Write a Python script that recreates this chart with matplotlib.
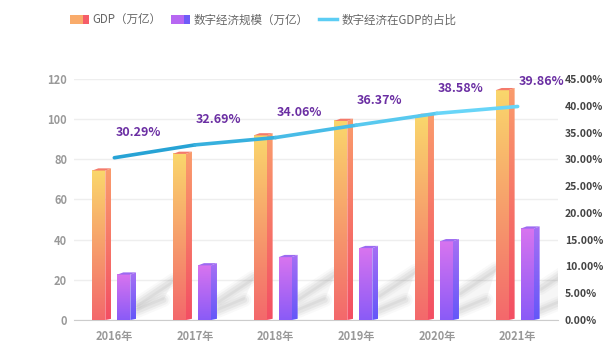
import numpy as np
import matplotlib.pyplot as plt
from matplotlib.colors import LinearSegmentedColormap
from matplotlib.patches import Polygon, Rectangle
from matplotlib.collections import LineCollection
from matplotlib.legend_handler import HandlerBase
from matplotlib.lines import Line2D

plt.rcParams['font.family'] = ['Noto Sans CJK SC', 'DejaVu Sans']

# 数据
years = ['2016年', '2017年', '2018年', '2019年', '2020年', '2021年']
gdp = [74.4, 82.7, 91.9, 99.1, 101.6, 114.4]        # 万亿
digital = [22.6, 27.2, 31.3, 35.8, 39.2, 45.5]      # 万亿
share = [30.29, 32.69, 34.06, 36.37, 38.58, 39.86]  # %

# 配色
gdp_front = ['#f3686c', '#fad76b']
gdp_side = ['#f34e63', '#fa9c6c']
gdp_cap = '#f47a6b'
dig_front = ['#8a5bf7', '#d874ef']
dig_side = ['#6357f9', '#a670f4']
dig_cap = '#9c6af1'

fw = 0.161   # 正面宽度
sw = 0.074   # 侧面宽度
dz = 1.1     # 顶面高度
off = 0.155

fig = plt.figure(figsize=(6.15, 3.55), dpi=100)
ax = fig.add_axes([0.1203, 0.0986, 0.787, 0.679])
x = np.arange(len(years))


def grad_cmap(cols):
    return LinearSegmentedColormap.from_list('g', cols)


grad = np.linspace(0, 1, 256).reshape(-1, 1)


def draw_3d(bars, front, side, cap):
    for r in bars:
        x0 = r.get_x()
        x1 = x0 + r.get_width()
        h = r.get_height()
        ax.imshow(grad, cmap=grad_cmap(front), origin='lower', aspect='auto',
                  extent=(x0, x1, 0, h), zorder=3)
        sp = Polygon([(x1, 0), (x1 + sw, 0.6), (x1 + sw, h + dz), (x1, h)],
                     closed=True, fc='none', ec='none')
        ax.add_patch(sp)
        im = ax.imshow(grad, cmap=grad_cmap(side), origin='lower', aspect='auto',
                       extent=(x1, x1 + sw, 0, h + dz), zorder=3)
        im.set_clip_path(sp)
        ax.add_patch(Polygon([(x0, h), (x1, h), (x1 + sw, h + dz), (x0 + sw, h + dz)],
                             closed=True, fc=cap, ec='none', zorder=4))


def soft_line(xs, ys):
    for lw, a in [(10, 0.04), (7, 0.06), (4, 0.08)]:
        ax.plot(xs, ys, color='#666666', lw=lw, alpha=a,
                solid_capstyle='round', zorder=1.6)


def draw_shadow(bars):
    # 紫色柱子右后方的斜向投影
    for r in bars:
        xr = r.get_x() + r.get_width() + sw
        h = r.get_height()
        up0 = 0.35 * h
        xs_u = [xr + 0.01, xr + 0.46]
        ys_u = [up0, up0 + 12]
        xs_l = [xr + 0.01, xr + 0.34]
        ys_l = [4.5, 10]
        ax.fill([xs_l[0], xs_u[0], xs_u[1], xs_l[1]],
                [ys_l[0], ys_u[0], ys_u[1], ys_l[1]],
                color='#888888', alpha=0.07, lw=0, zorder=1.5)
        soft_line(xs_u, ys_u)
        soft_line(xs_l, ys_l)


gdp_bars = ax.bar(x - off - sw / 2, gdp, width=fw, color='none', zorder=2)
dig_bars = ax.bar(x + off - sw / 2, digital, width=fw, color='none', zorder=2)
draw_shadow(dig_bars)
draw_3d(gdp_bars, gdp_front, gdp_side, gdp_cap)
draw_3d(dig_bars, dig_front, dig_side, dig_cap)

ax.set_xlim(-0.5, len(years) - 0.5)
ax.set_ylim(0, 120)
ax.set_yticks(np.arange(0, 121, 20))
ax.set_xticks(x)
ax.set_xticklabels(years)
ax.yaxis.grid(True, color='#eeeeee', lw=1)
ax.set_axisbelow(True)
for s in ['top', 'right', 'left']:
    ax.spines[s].set_visible(False)
ax.spines['bottom'].set_color('#cccccc')
ax.tick_params(axis='y', length=0, labelsize=8, labelcolor='#999999', pad=5)
ax.tick_params(axis='x', length=0, labelsize=8, labelcolor='#999999', pad=7)
for lb in ax.get_yticklabels() + ax.get_xticklabels():
    lb.set_fontweight('bold')

# 右轴：占比
ax2 = ax.twinx()
ax2.set_ylim(0, 45)
ticks = np.arange(0, 46, 5)
ax2.set_yticks(ticks)
ax2.set_yticklabels([f'{t:.2f}%' for t in ticks])
ax2.tick_params(axis='y', length=0, labelsize=7.5, labelcolor='#444444', pad=5)
for lb in ax2.get_yticklabels():
    lb.set_fontweight('bold')
for s in ax2.spines.values():
    s.set_visible(False)

pts = list(zip(x, share))
segs = [[pts[i], pts[i + 1]] for i in range(len(pts) - 1)]
lc_cmap = grad_cmap(['#27a3d5', '#68d5f8'])
cols = [lc_cmap(i / (len(segs) - 1)) for i in range(len(segs))]
lc = LineCollection(segs, colors=cols, linewidths=2.6, capstyle='round', zorder=5)
ax2.add_collection(lc)

for xi, v in zip(x, share):
    ax2.annotate(f'{v:.2f}%', (xi, v), xytext=(17, 18), textcoords='offset points',
                 ha='center', va='center', color='#6b2fa3', fontsize=9,
                 fontweight='bold', zorder=6)


# 图例
class BarHandler(HandlerBase):
    def __init__(self, c1, c2):
        super().__init__()
        self.c1 = c1
        self.c2 = c2

    def create_artists(self, legend, orig_handle, xdescent, ydescent, width,
                       height, fontsize, trans):
        r1 = Rectangle((-xdescent, -ydescent), width * 0.68, height,
                       fc=self.c1, ec='none', transform=trans)
        r2 = Rectangle((-xdescent + width * 0.68, -ydescent), width * 0.32, height,
                       fc=self.c2, ec='none', transform=trans)
        return [r1, r2]


h1 = Rectangle((0, 0), 1, 1)
h2 = Rectangle((0, 0), 1, 1)
h3 = Line2D([], [], color='#5ccdf4', lw=2.5)
fig.legend([h1, h2, h3], ['GDP（万亿）', '数字经济规模（万亿）', '数字经济在GDP的占比'],
           handler_map={h1: BarHandler('#f9ab6b', '#f55d69'),
                        h2: BarHandler('#b767f2', '#6e5cf8')},
           loc='center', bbox_to_anchor=(0.428, 0.944), ncol=3, frameon=False,
           fontsize=8.3, labelcolor='#666666', handlelength=1.6, handleheight=0.8,
           handletextpad=0.35, columnspacing=0.85)

plt.savefig('out.png', dpi=100)
